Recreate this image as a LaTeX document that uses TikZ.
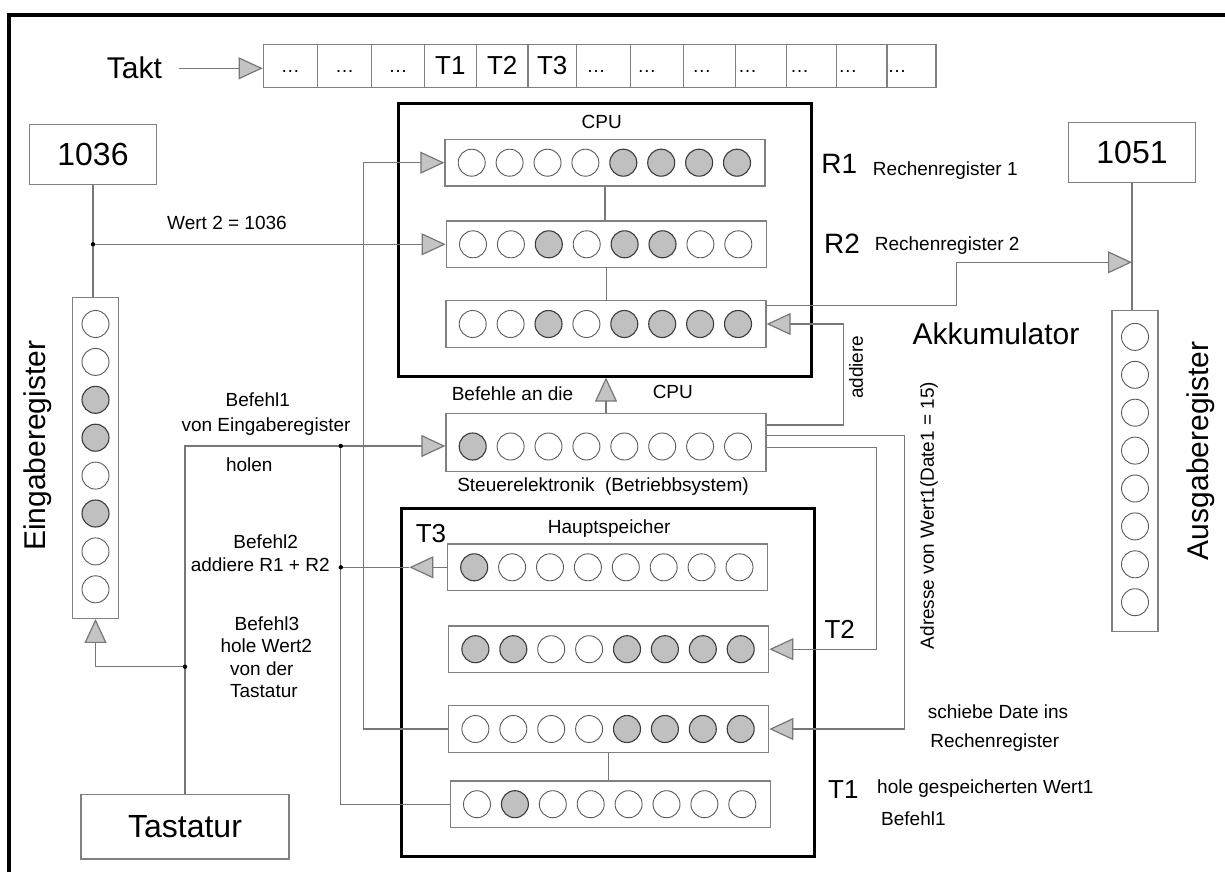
\documentclass[tikz,border=0pt]{standalone}
\usepackage{fontspec}
\setmainfont{Liberation Sans}
\usetikzlibrary{arrows.meta,calc}
\definecolor{wirec}{HTML}{777777}
\definecolor{boxc}{HTML}{808080}
\definecolor{bitfill}{HTML}{C0C0C0}
\definecolor{bitline}{HTML}{3C3C3C}
\definecolor{openline}{HTML}{5A5A5A}
\definecolor{trifill}{HTML}{C4C4C4}
\tikzset{
 wire/.style={draw=wirec, line width=1.2pt},
 tri/.style={-{Triangle[length=24pt,width=22pt,fill=trifill]}},
 regbox/.style={draw=boxc, fill=white, line width=1.3pt, minimum width=320pt, minimum height=46.5pt, inner sep=0pt},
 vregbox/.style={draw=boxc, fill=white, line width=1.3pt, minimum width=46pt, minimum height=321pt, inner sep=0pt},
 bit0/.style={circle, draw=openline, fill=white, line width=0.9pt, minimum size=27pt, inner sep=0pt},
 bit1/.style={circle, draw=bitline, fill=bitfill, line width=1.1pt, minimum size=27pt, inner sep=0pt},
 bigbox/.style={draw=black, line width=3pt, inner sep=0pt},
 numbox/.style={draw=boxc, fill=white, line width=1.3pt, inner sep=0pt, font=\fontsize{32}{36}\selectfont},
 cell/.style={draw=boxc, line width=1.2pt, minimum height=43pt, inner sep=0pt},
 small/.style={font=\fontsize{19}{22}\selectfont, inner sep=0pt, text=black},
 mid/.style={font=\fontsize{26}{30}\selectfont, inner sep=0pt, text=black},
 rlab/.style={font=\fontsize{28}{32}\selectfont, inner sep=0pt, text=black},
 big/.style={font=\fontsize{30}{34}\selectfont, inner sep=0pt, text=black},
}
\newcommand{\hreg}[6]{%
  \node[regbox,#6] (#1) at (#2,#3) {};
  \foreach \f [count=\i from 0] in {#4}
    \node[bit\f] (#1b\i) at ($(#1.west)+({27.35+\i*37.9},#5)$) {};
}
\newcommand{\vreg}[4]{%
  \node[vregbox] (#1) at (#2,#3) {};
  \foreach \f [count=\i from 0] in {#4}
    \node[bit\f] (#1b\i) at ($(#1.north)+(0,{27.35+\i*37.9})$) {};
}
\begin{document}
\begin{tikzpicture}[x=1pt,y=-1pt]
\fill[white] (0,0) rectangle (1225,872);
\useasboundingbox (0,0) rectangle (1225,872);
% outer frame
\draw[line width=4pt] (9.3,872) -- (9.3,14.7) -- (1230,14.7);

% Takt bar
\node[big, anchor=base] (takt) at (134.4,78.3) {Takt};
\foreach \a/\b [count=\i] in {263.3/317.5,317.5/371.7,371.7/424.3,424.3/476.5,476.5/527.9,527.9/576.5,576.5/630.7,630.7/683.7,683.7/735.5,735.5/786.5,786.5/836.7,836.7/887,887/936}
  \node[cell, minimum width={(\b-\a)*1pt}] (c\i) at ({(\a+\b)/2},65.8) {};
\foreach \k in {1,2,3}
  \node[small, anchor=base] (d\k) at ($(c\k.center)+(0,7.2)$) {…};
\foreach \k/\o in {7/10.5,8/7,9/9,10/3,11/4,12/2,13/1}
  \node[small, anchor=base west] (d\k) at ($(c\k.west)+(\o,7.2)$) {…};
\node[mid] (tk1) at (c4) {T1};
\node[mid] (tk2) at (c5) {T2};
\node[mid] (tk3) at (c6) {T3};
\coordinate (tkst) at (178.7,68.3);
\coordinate (tkend) at ($(c1.west)+(0,2.5)$);
\draw[wire,tri] (tkst) -- (tkend);

% big boxes
\node[bigbox, minimum width=412.5pt, minimum height=272.5pt] (CPU) at (604.75,239.75) {};
\node[bigbox, minimum width=413pt, minimum height=347.7pt] (HS) at (607.5,682.15) {};
\node[small, anchor=base] (cpulab) at (601.7,128.3) {CPU};
\node[small, anchor=base] (hslab) at (609.2,533.3) {Hauptspeicher};
\node[mid, anchor=base] (t3lab) at (431,542.3) {T3};

% registers
\hreg{R1}{605}{162.7}{0,0,0,0,1,1,1,1}{0}{}
\hreg{R2}{606.3}{244.3}{0,0,1,0,1,1,0,0}{0}{}
\hreg{R3}{606}{324}{0,0,1,0,1,1,1,1}{0}{}
\hreg{ST}{606}{442.5}{1,0,0,0,0,0,0,0}{4}{minimum height=58.4pt}
\hreg{H1}{607.5}{567.3}{1,0,0,0,0,0,0,0}{0}{}
\hreg{H2}{608.7}{649.2}{1,1,0,0,1,1,1,1}{0}{}
\hreg{H3}{608.7}{729}{0,0,0,0,1,1,1,1}{0}{}
\hreg{H4}{610.3}{804.2}{0,1,0,0,0,0,0,0}{0}{}
\vreg{EIN}{95.5}{457.8}{0,0,1,1,0,1,0,0}
\vreg{AUS}{1135}{470.7}{0,0,0,0,0,0,0,0}

% number boxes
\node[numbox, minimum width=127pt, minimum height=60pt] (B1036) at (93,154.3) {1036};
\node[numbox, minimum width=127pt, minimum height=60pt] (B1051) at (1132,152.7) {1051};
\node[numbox, minimum width=208pt, minimum height=64.7pt] (Tas) at (185,826.7) {Tastatur};

% connectors
\draw[wire] (R1.south) -- (R1.south |- R2.north);
\draw[wire] (R2.south) -- (R2.south |- R3.north);
\draw[wire] (H3.south) -- (H3.south |- H4.north);
\draw[wire,tri] (ST.north) -- (ST.north |- CPU.south);

\draw[wire] (B1036.south) -- (B1036.south |- EIN.north);
\coordinate (j1) at (B1036.south |- R2.west);
\draw[wire,tri] (j1) -- (R2.west);

\draw[wire] (B1051.south) -- (B1051.south |- AUS.north);
\coordinate (y262) at (0,262.3);
\coordinate (j5) at (B1051.south |- y262);
\draw[wire,tri] ($(R3.east)+(0,-18.3)$) -- ++(190,0) |- (j5);

\draw[wire,tri] (H3.west) -- ++(-84.2,0) |- (R1.west);

\coordinate (j2) at (340.8,446);
\draw[wire,tri] (Tas.north) |- (j2) -- ($(ST.west)+(0,3.5)$);
\coordinate (y666) at (0,666.7);
\coordinate (j3) at (Tas.north |- y666);
\draw[wire,tri] (j3) -| (EIN.south);
\draw[wire] (j2) |- (H4.west);
\coordinate (j4) at (j2 |- H1.west);
\draw[wire,tri] (H1.west) -- ++(-37.5,0) coordinate (t3tip);
\draw[wire] (t3tip) -- (j4);

\draw[wire,tri] ($(ST.east)+(0,-17.5)$) -- ++(77,0) |- (R3.east);
\draw[wire,tri] ($(ST.east)+(0,-6.8)$) -- ++(137.7,0) |- (H3.east);
\draw[wire,tri] ($(ST.east)+(0,4.8)$) -- ++(110.2,0) |- (H2.east);

\foreach \p in {j1,j2,j3,j4} \fill[black] (\p) circle[radius=2.2pt];

% texts
\node[small, anchor=base] (wert2) at (227,229.3) {Wert 2 = 1036};
\node[rlab, anchor=base] (r1lab) at (839.2,173.3) {R1};
\node[small, anchor=base] (r1txt) at (945.3,175) {Rechenregister 1};
\node[rlab, anchor=base] (r2lab) at (842,253.3) {R2};
\node[small, anchor=base] (r2txt) at (947.2,250) {Rechenregister 2};
\node[big, anchor=base] (akku) at (996,344.3) {Akkumulator};
\node[small, anchor=base] (bef) at (512.5,400) {Befehle an die};
\node[small, anchor=base] (cpu2) at (672.8,398.3) {CPU};
\node[small, anchor=base] (b1a) at (257.8,406.7) {Befehl1};
\node[small, anchor=base] (b1b) at (266,431.7) {von Eingaberegister};
\node[small, anchor=base] (b1c) at (249.3,471.7) {holen};
\node[small, anchor=base] (stlab) at (603,491.7) {Steuerelektronik\ \ (Betriebbsystem)};
\node[small, anchor=base] (b2a) at (265.7,548.3) {Befehl2};
\node[small, anchor=base] (b2b) at (260.2,571.7) {addiere R1 + R2};
\node[small, anchor=base] (b3a) at (266.9,630.7) {Befehl3};
\node[small, anchor=base] (b3b) at (266.3,652.7) {hole Wert2};
\node[small, anchor=base] (b3c) at (261.8,675) {von der};
\node[small, anchor=base] (b3d) at (263.9,697.7) {Tastatur};
\node[mid, anchor=base] (t2lab) at (839.7,638.3) {T2};
\node[small, anchor=base] (sch1) at (998,718) {schiebe Date ins};
\node[small, anchor=base] (sch2) at (994.7,747) {Rechenregister};
\node[mid, anchor=base] (t1lab) at (843.4,798.3) {T1};
\node[small, anchor=base west] (hole1) at (877,793.3) {hole gespeicherten Wert1};
\node[small, anchor=base west] (hole2) at (881,825) {Befehl1};
\node[small, rotate=90] (addl) at (856,367.3) {addiere};
\node[small, rotate=90] (adr) at (929,515.5) {Adresse von Wert1(Date1 = 15)};
\node[big, rotate=90] (einl) at (37.4,445.8) {Eingaberegister};
\node[big, rotate=90] (ausl) at (1200.4,450.8) {Ausgaberegister};
\end{tikzpicture}
\end{document}
